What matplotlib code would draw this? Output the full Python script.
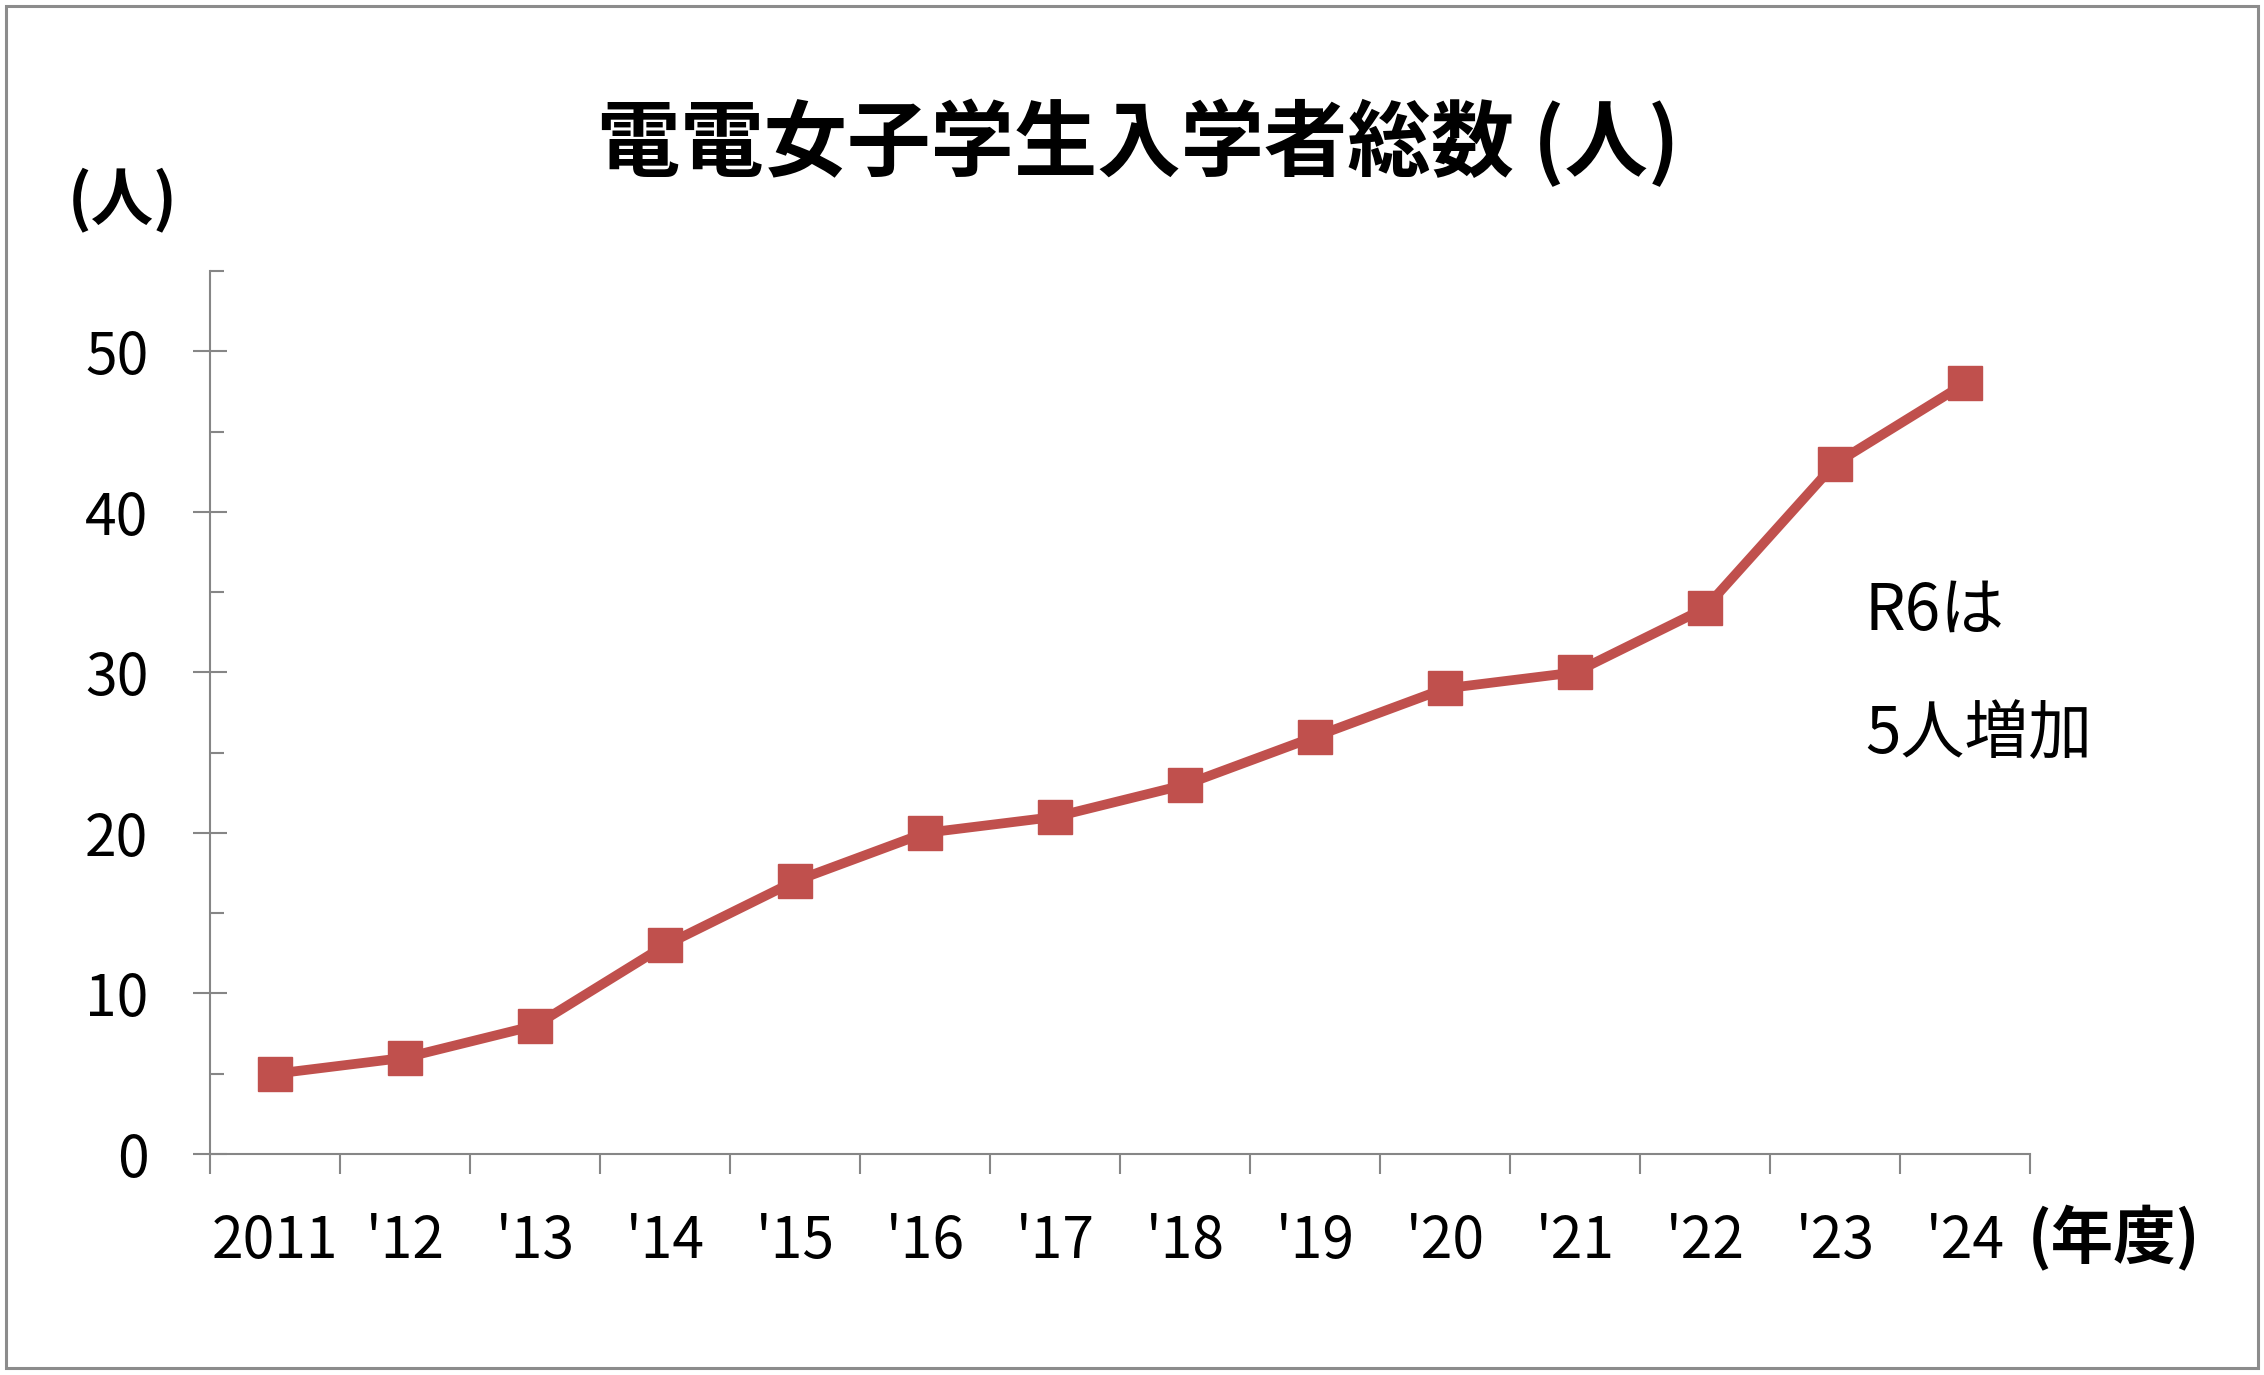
# 電電女子学生入学者総数 line chart

import matplotlib.pyplot as plt
from matplotlib.patches import Rectangle
from matplotlib.ticker import MultipleLocator, FixedLocator

plt.rcParams['font.family'] = ['Noto Sans CJK JP', 'DejaVu Sans']

years = ['2011', "'12", "'13", "'14", "'15", "'16", "'17", "'18", "'19",
         "'20", "'21", "'22", "'23", "'24"]
students = [5, 6, 8, 13, 17, 20, 21, 23, 26, 29, 30, 34, 43, 48]

title = '電電女子学生入学者総数 (人)'
note = ['R6は', '5人増加']

axis_grey = '#868686'
red = '#C0504D'

fig = plt.figure(figsize=(22.64, 13.75), dpi=100)
ax = fig.add_axes([0.0928, 0.1607, 0.8039, 0.6422])

x = range(len(years))
ax.plot(x, students, color=red, lw=7, marker='s', markersize=24.5,
        markerfacecolor=red, markeredgecolor=red, clip_on=False)

ax.set_xlim(-0.5, len(years) - 0.5)
ax.set_ylim(0, 55)

# y axis: crossing major ticks, inner minor ticks
ax.yaxis.set_major_locator(MultipleLocator(10))
ax.yaxis.set_minor_locator(FixedLocator([5, 15, 25, 35, 45, 55]))
ax.tick_params(axis='y', which='major', direction='inout', length=25,
               width=1.5, color=axis_grey, pad=32, labelsize=41)
ax.tick_params(axis='y', which='minor', direction='in', length=10,
               width=1.5, color=axis_grey)

# x axis: labels at category centres, ticks at category boundaries
ax.set_xticks(list(x))
ax.set_xticklabels(years)
ax.set_xticks([i - 0.5 for i in range(len(years) + 1)], minor=True)
ax.tick_params(axis='x', which='major', length=0, pad=42, labelsize=41)
ax.tick_params(axis='x', which='minor', direction='out', length=14.5,
               width=1.5, color=axis_grey)

for side in ['top', 'right']:
    ax.spines[side].set_visible(False)
for side in ['left', 'bottom']:
    ax.spines[side].set_color(axis_grey)
    ax.spines[side].set_linewidth(1.5)

fig.text(0.5027, 0.8955, title, ha='center', va='center',
         fontsize=60, fontweight='bold')
fig.text(0.0543, 0.8545, '(人)', ha='center', va='center',
         fontsize=45, fontweight='bold')
fig.text(0.9337, 0.0996, '(年度)', ha='center', va='center',
         fontsize=45, fontweight='bold')
fig.text(0.8237, 0.5418, note[0], ha='left', va='baseline', fontsize=46)
fig.text(0.8237, 0.4524, note[1], ha='left', va='baseline', fontsize=46)

fig.patches.append(Rectangle((0.0025, 0.005), 0.995, 0.991,
                             transform=fig.transFigure, fill=False,
                             edgecolor='#8c8c8c', linewidth=2.2))

fig.savefig('out.png', dpi=100)
